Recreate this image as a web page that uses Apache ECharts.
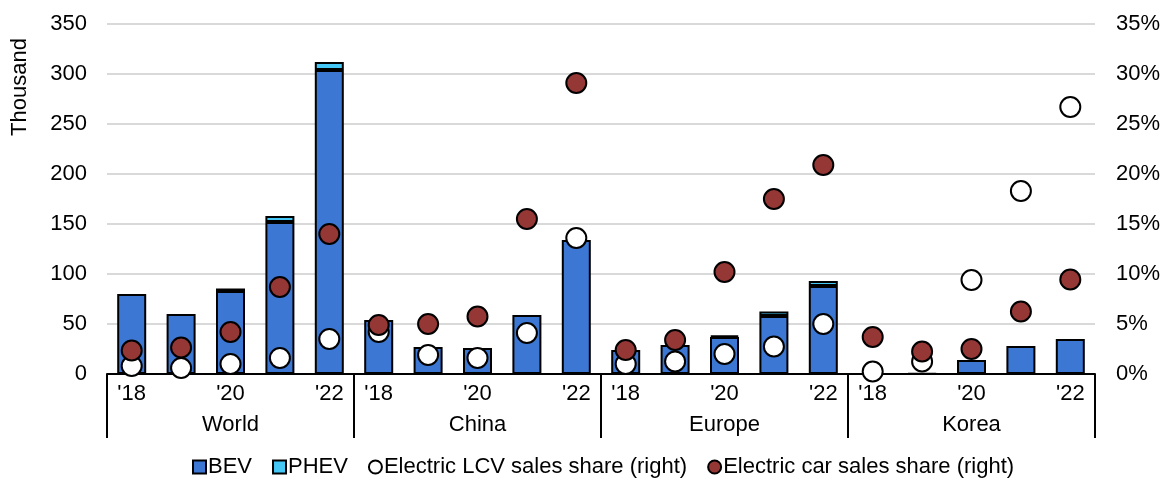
<!DOCTYPE html>
<html>
<head>
<meta charset="utf-8">
<script src="https://cdn.jsdelivr.net/npm/echarts@6/dist/echarts.min.js"></script>
<style>html,body{margin:0;padding:0;background:#fff}#c{width:1169px;height:481px}</style>
</head>
<body>
<div id="c"></div>
<script>
const regions = ['World', 'China', 'Europe', 'Korea'];
const years = ["'18", "'19", "'20", "'21", "'22"];
const bev = [80, 60, 83, 152, 304,  54, 27, 26, 59, 134,  24, 29, 37, 58, 88,  0.2, 0.6, 14, 28, 35];
const phev = [null, null, 2.5, 6, 8,  null, null, null, null, null,  null, null, 1.5, 4.5, 5,  null, null, null, null, null];
const lcvShare = [0.8, 0.6, 1.0, 1.6, 3.5,  4.2, 1.9, 1.6, 4.1, 13.6,  1.0, 1.25, 2.0, 2.75, 5.0,  0.25, 1.25, 9.4, 18.3, 26.7];
const carShare = [2.35, 2.65, 4.2, 8.7, 14.0,  4.9, 5.0, 5.75, 15.5, 29.1,  2.4, 3.4, 10.2, 17.5, 20.9,  3.7, 2.25, 2.5, 6.25, 9.45];
const leftTicks = [0, 350, 50];
const rightTicks = [0, 35, 5];

const cats = [];
regions.forEach(r => years.forEach(y => cats.push(r + '|' + y)));

const font = 'Liberation Sans, Arial, sans-serif';
const fs = 22;
const chart = echarts.init(document.getElementById('c'), null, {renderer: 'canvas'});
chart.setOption({
  animation: false,
  textStyle: {fontFamily: font},
  grid: {left: 107, right: 74, top: 24, bottom: 107, containLabel: false},
  legend: {
    top: 451, left: 187, itemWidth: 13, itemHeight: 13, itemGap: 20,
    textStyle: {fontSize: fs, color: '#000', fontFamily: font, padding: [0, 0, 0, -3]},
    data: [
      {name: 'BEV', icon: 'rect'},
      {name: 'PHEV', icon: 'rect'},
      {name: 'Electric LCV sales share (right)', icon: 'circle'},
      {name: 'Electric car sales share (right)', icon: 'circle'}
    ]
  },
  xAxis: [
    {
      type: 'category', data: cats, position: 'bottom',
      axisLine: {lineStyle: {color: '#000', width: 2}},
      axisTick: {show: false},
      axisLabel: {
        interval: 0, fontSize: fs, color: '#000', margin: 9,
        formatter: v => { const y = v.split('|')[1]; return (y === "'19" || y === "'21") ? '' : y; }
      }
    },
    {
      type: 'category', data: regions, position: 'bottom',
      axisLine: {show: false},
      axisTick: {show: true, length: 64, lineStyle: {color: '#000', width: 2}},
      axisLabel: {fontSize: fs, color: '#000', margin: 40}
    }
  ],
  yAxis: [
    {
      type: 'value', min: leftTicks[0], max: leftTicks[1], interval: leftTicks[2],
      axisLine: {show: false}, axisTick: {show: false},
      axisLabel: {fontSize: fs, color: '#000', margin: 20},
      splitLine: {lineStyle: {color: '#d9d9d9', width: 2}}
    },
    {
      type: 'value', min: rightTicks[0], max: rightTicks[1], interval: rightTicks[2],
      axisLine: {show: false}, axisTick: {show: false},
      axisLabel: {fontSize: fs, color: '#000', margin: 21, formatter: '{value}%'},
      splitLine: {show: false}
    }
  ],
  graphic: [{
    type: 'text', x: 20, y: 87, rotation: Math.PI / 2,
    style: {text: 'Thousand', fontSize: fs, fontFamily: font, fill: '#000', align: 'center', verticalAlign: 'middle'}
  }],
  series: [
    {
      name: 'BEV', type: 'bar', stack: 's', data: bev, barWidth: 29, xAxisIndex: 0, yAxisIndex: 0,
      itemStyle: {color: '#3c78d3', borderColor: '#000', borderWidth: 2}, z: 2
    },
    {
      name: 'PHEV', type: 'bar', stack: 's', data: phev, barWidth: 29, xAxisIndex: 0, yAxisIndex: 0,
      itemStyle: {color: '#45c8f5', borderColor: '#000', borderWidth: 2}, z: 2
    },
    {
      name: 'Electric LCV sales share (right)', type: 'scatter', data: lcvShare, xAxisIndex: 0, yAxisIndex: 1,
      symbol: 'circle', symbolSize: 20,
      itemStyle: {color: '#fff', borderColor: '#000', borderWidth: 2, opacity: 1}, z: 5
    },
    {
      name: 'Electric car sales share (right)', type: 'scatter', data: carShare, xAxisIndex: 0, yAxisIndex: 1,
      symbol: 'circle', symbolSize: 20,
      itemStyle: {color: '#953735', borderColor: '#000', borderWidth: 2, opacity: 1}, z: 6
    }
  ]
});
</script>
</body>
</html>
